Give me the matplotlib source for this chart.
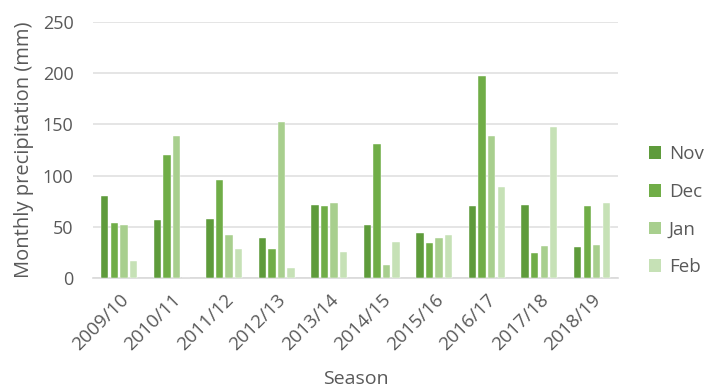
import numpy as np
import matplotlib
matplotlib.use("Agg")
import matplotlib.pyplot as plt
from matplotlib.patches import Patch

plt.rcParams['font.family'] = ['Open Sans', 'DejaVu Sans']

seasons = ["2009/10", "2010/11", "2011/12", "2012/13", "2013/14",
           "2014/15", "2015/16", "2016/17", "2017/18", "2018/19"]
months = ["Nov", "Dec", "Jan", "Feb"]
nov = [80.4, 56.2, 57.2, 39.2, 70.9, 51.6, 44.4, 69.9, 70.9, 30.7]
dec = [53.9, 119.9, 95.4, 28.8, 69.9, 130.7, 34.0, 197.4, 24.2, 69.9]
jan = [51.6, 138.9, 42.2, 152.6, 73.2, 12.4, 39.2, 139.2, 31.7, 32.7]
feb = [16.7, 0.0, 28.8, 9.5, 25.5, 35.0, 42.2, 88.9, 147.4, 73.2]
series = [nov, dec, jan, feb]
colors = ["#5e9b3b", "#70ad47", "#a8cf8e", "#c6e1b6"]

text_col = "#595959"
grid_col = "#e0e0e0"

fig = plt.figure(figsize=(7.09, 3.88), dpi=100)
ax = fig.add_axes([0.131, 0.2835, 0.741, 0.6595])

x = np.arange(len(seasons))
width = 0.14
pitch = 0.182
for i, (vals, c) in enumerate(zip(series, colors)):
    ax.bar(x + (i - 1.5) * pitch, vals, width=width, color=c,
           edgecolor="white", linewidth=0.3, label=months[i], zorder=3)

ax.set_xlim(-0.5, len(seasons) - 0.5)
ax.set_ylim(0, 250)
ax.set_yticks(np.arange(0, 251, 50))
ax.yaxis.grid(True, color=grid_col, linewidth=1.2, zorder=0)
ax.set_axisbelow(True)
for s in ["top", "right", "left"]:
    ax.spines[s].set_visible(False)
ax.spines["bottom"].set_color("#d9d9d9")
ax.spines["bottom"].set_linewidth(1.2)
ax.tick_params(axis="both", length=0, colors=text_col)
ax.tick_params(axis="y", pad=14, labelsize=13)
ax.set_xticks(x)
ax.set_xticklabels(seasons, rotation=45, ha="right", rotation_mode="anchor")
ax.tick_params(axis="x", pad=9, labelsize=13.5)

ax.set_ylabel("Monthly precipitation (mm)", color=text_col, fontsize=14.5, labelpad=6)
ax.set_xlabel("Season", color=text_col, fontsize=14, labelpad=12)

handles = [Patch(facecolor=c, edgecolor="none", label=m) for m, c in zip(months, colors)]
leg = fig.legend(handles=handles, loc="center left", bbox_to_anchor=(0.905, 0.457),
                 frameon=False, fontsize=13.5, labelspacing=1.05, handlelength=0.65,
                 handleheight=0.65, handletextpad=0.4, borderaxespad=0)
for t in leg.get_texts():
    t.set_color(text_col)

fig.savefig("out.png", dpi=100)
